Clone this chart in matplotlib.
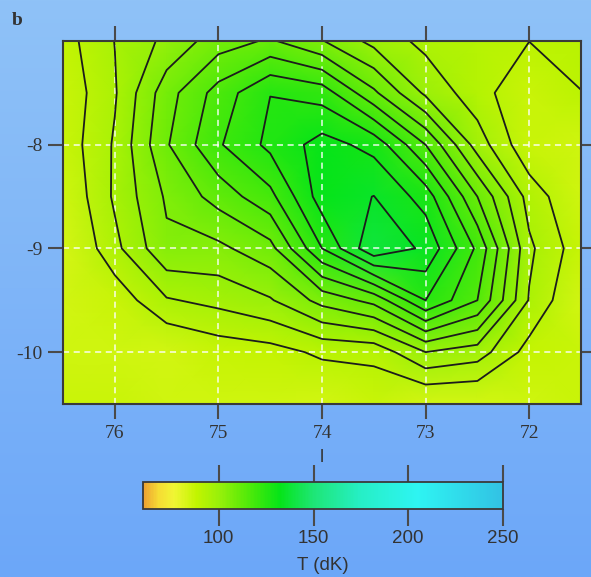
import numpy as np
import matplotlib
matplotlib.use("Agg")
import matplotlib.pyplot as plt
from matplotlib.colors import LinearSegmentedColormap, Normalize

plt.rcParams["axes.unicode_minus"] = False

# Grid coordinates (galactic l, b) and brightness temperature on a 0.5 deg grid
longitude = [76.5, 76.0, 75.5, 75.0, 74.5, 74.0, 73.5, 73.0, 72.5, 72.0, 71.5]
latitude = [-7.0, -7.5, -8.0, -8.5, -9.0, -9.5, -10.0, -10.5]
temperature = [
    [87.8, 95.1, 101.3, 107.6, 110.7, 105.3, 98.4, 93.5, 91.5, 90.05, 90.8],
    [86.2, 94.5, 107.9, 117.0, 124.9, 122.8, 111.0, 99.0, 92.0, 86.0, 89.95],
    [86.7, 95.6, 109.5, 119.4, 126.3, 132.0, 128.4, 115.0, 97.7, 86.0, 85.0],
    [85.0, 95.8, 105.7, 112.0, 118.5, 132.5, 135.1, 127.8, 110.0, 93.0, 85.0],
    [83.2, 93.6, 104.0, 103.8, 108.3, 125.0, 139.0, 134.0, 119.0, 96.0, 87.0],
    [84.0, 86.6, 94.5, 96.5, 99.5, 106.7, 111.6, 125.0, 115.0, 94.6, 84.4],
    [85.0, 85.0, 84.3, 87.0, 88.0, 91.0, 91.5, 100.0, 97.5, 88.0, 86.0],
    [86.0, 86.0, 85.0, 85.0, 85.0, 84.0, 86.0, 84.0, 84.0, 85.0, 86.0],
]
contour_levels = [90, 95, 100, 105, 110, 115, 120, 125, 130, 135]
x_ticks = [76, 75, 74, 73, 72]
y_ticks = [-8, -9, -10]
cbar_ticks = [100, 150, 200, 250]
t_min, t_max = 60, 250

# Temperature colour scale: orange -> yellow -> green -> cyan -> light blue
cmap_stops = [60, 68, 76, 88, 100, 110, 120, 132, 150, 175, 205, 250]
cmap_colors = ["#eea032", "#f6dc34", "#f0f634", "#c2f400", "#98f00a", "#6aec08",
               "#3ce80c", "#06e418", "#1ee676", "#26efc6", "#2ef4f2", "#32c2e4"]
cmap = LinearSegmentedColormap.from_list(
    "tdk", [((v - t_min) / (t_max - t_min), c) for v, c in zip(cmap_stops, cmap_colors)])
norm = Normalize(vmin=t_min, vmax=t_max)

fig = plt.figure(figsize=(5.91, 5.77), dpi=100)

# Soft blue backdrop
bg = fig.add_axes([0, 0, 1, 1], zorder=-10)
ramp = np.linspace(0, 1, 256)[:, None]
bg_cmap = LinearSegmentedColormap.from_list("bg", ["#6ca7f9", "#7fb5f8", "#8fc2f7"])
bg.imshow(ramp, aspect="auto", cmap=bg_cmap, origin="lower", extent=[0, 1, 0, 1])
bg.set_axis_off()

ax = fig.add_axes([0.1066, 0.2998, 0.8765, 0.6291])
X, Y = np.meshgrid(longitude, latitude)
Z = np.array(temperature)
mesh = ax.pcolormesh(X, Y, Z, shading="gouraud", cmap=cmap, norm=norm)
ax.contour(X, Y, Z, levels=contour_levels, colors="#1c1c1c", linewidths=1.3)

ax.set_xlim(76.5, 71.5)
ax.set_ylim(-10.5, -7.0)
ax.set_xticks(x_ticks)
ax.set_yticks(y_ticks)
ax.set_xticklabels([str(t) for t in x_ticks])
ax.set_yticklabels([str(t) for t in y_ticks])
ax.tick_params(direction="out", length=11, width=1.5, color="#4a4a4a",
               top=True, right=True, labeltop=False, labelright=False,
               labelsize=14, labelcolor="#333333", pad=4)
for lab in ax.get_xticklabels() + ax.get_yticklabels():
    lab.set_family("Liberation Serif")
ax.grid(True, color="white", linestyle=(0, (4, 3)), linewidth=1.1, alpha=0.9)
for sp in ax.spines.values():
    sp.set_color("#3a3a3a")
    sp.set_linewidth(1.5)
ax.set_xlabel("l", family="Liberation Sans", fontsize=13.5, color="#333333", labelpad=5)

cax = fig.add_axes([0.242, 0.1179, 0.609, 0.0468])
cb = fig.colorbar(mesh, cax=cax, orientation="horizontal", ticks=cbar_ticks)
cax.tick_params(top=True, bottom=True, direction="out", length=12, width=1.5,
                color="#4a4a4a", labelsize=13.5, labelcolor="#333333", pad=3)
for lab in cax.get_xticklabels():
    lab.set_family("Liberation Sans")
cb.outline.set_edgecolor("#3a3a3a")
cb.outline.set_linewidth(1.3)
cb.set_label("T (dK)", family="Liberation Sans", fontsize=13.5, color="#333333", labelpad=7)

fig.text(12 / 591, 1 - 25 / 577, "b", family="Liberation Serif", fontweight="bold",
         fontsize=14, color="#333333", va="baseline")

fig.savefig("out.png", dpi=100)
